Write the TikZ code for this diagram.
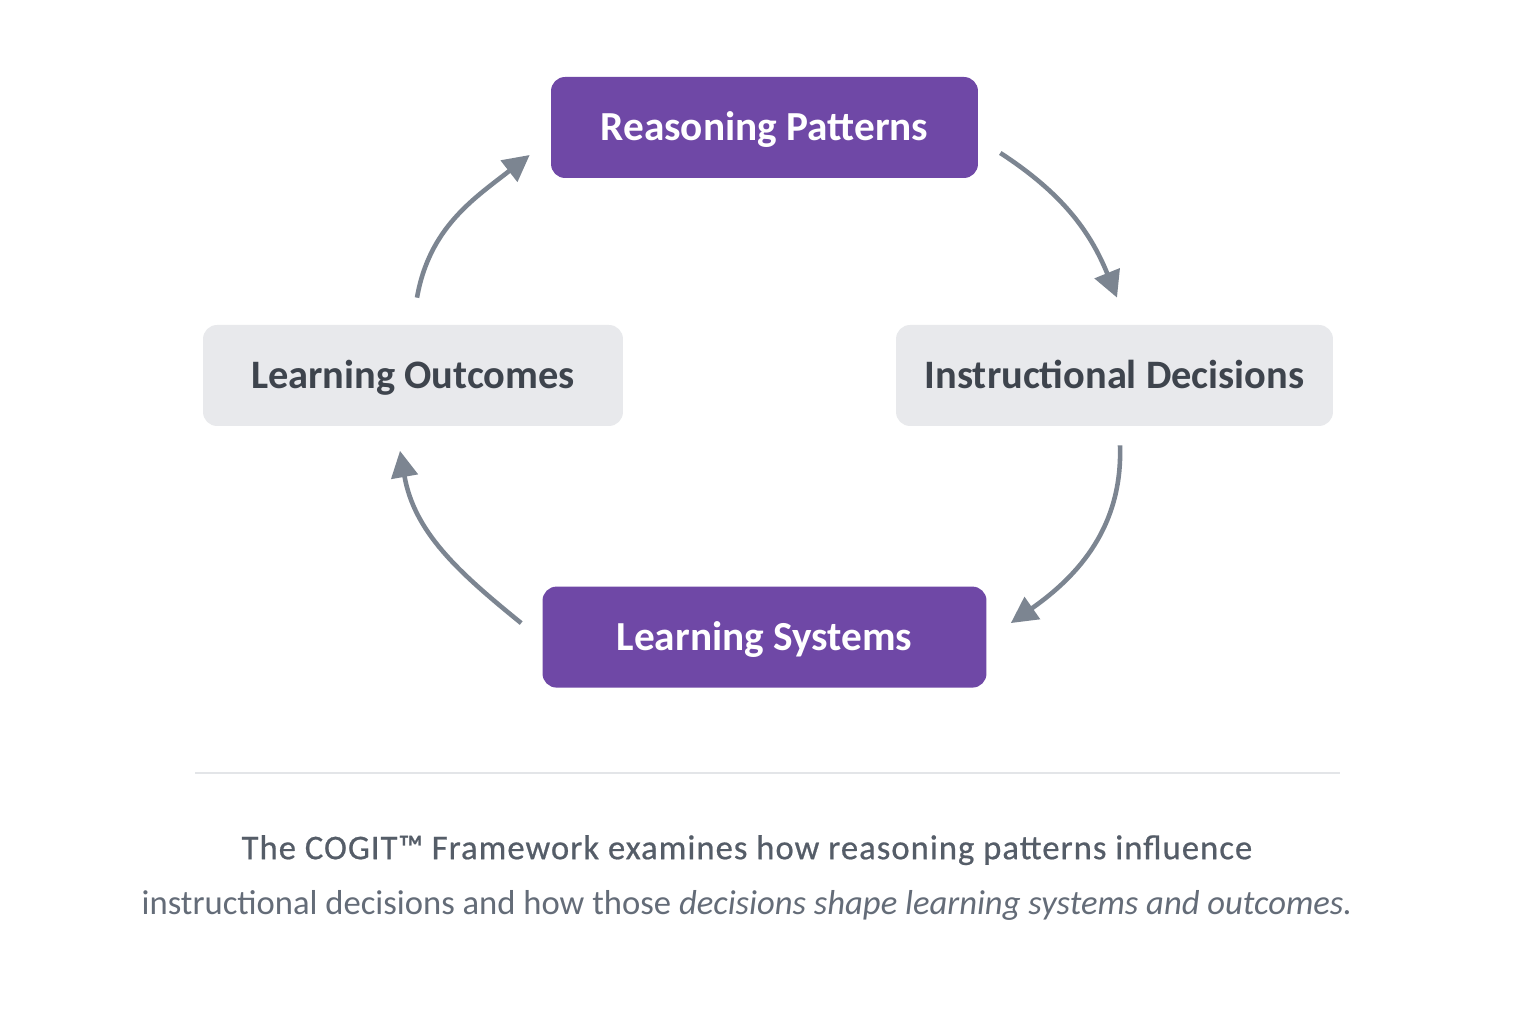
\documentclass[tikz,border=0pt]{standalone}
\usepackage{fontspec}
\setmainfont{Carlito}
\newfontfamily\capmedium[FakeBold=0.6, LetterSpace=3.0]{Carlito}
\usepackage{xcolor}
\usepackage{tikz}
\usetikzlibrary{positioning, arrows.meta}
\definecolor{cogpurple}{HTML}{6F48A6}
\definecolor{coggray}{HTML}{E8E9EC}
\definecolor{cogink}{HTML}{3E444D}
\definecolor{cogarrow}{HTML}{7C8591}
\definecolor{cogrule}{HTML}{E3E5E8}
\definecolor{capdark}{HTML}{555D68}
\definecolor{caplight}{HTML}{646C78}
\tikzstyle{hub} = [rectangle, rounded corners=0.28cm, minimum height=2.02cm, text height=19pt, text depth=4pt, text centered, fill=cogpurple, text=white, font=\fontsize{23.5}{28}\selectfont\bfseries]
\tikzstyle{stage} = [rectangle, rounded corners=0.28cm, minimum height=2.02cm, text height=19pt, text depth=4pt, text centered, fill=coggray, text=cogink, font=\fontsize{23}{28}\selectfont\bfseries]
\tikzstyle{cyc} = [draw=cogarrow, line width=2.6pt, -{Triangle[length=15pt, width=15pt]}]

\begin{document}
\begin{tikzpicture}[x=0.02cm, y=0.02cm]
		\useasboundingbox[fill=white] (0,0) rectangle (1536,1024);
		\node (Reasoning)[hub, minimum width=8.54cm] at (764.5,896.5) {Reasoning Patterns};
		\node (Systems)[hub, minimum width=8.88cm, below = 8.16cm of Reasoning.south, anchor=north] {Learning Systems};
		\node (Instruction)[stage, minimum width=8.74cm] at (1114.5,648.5) {Instructional Decisions};
		\node (Outcomes)[stage, minimum width=8.4cm] at (413,648.5) {Learning Outcomes};
		\draw [cyc] ([shift={(22,-25.5)}]Reasoning.east) to[out=-33, in=112] ([shift={(2.5,27)}]Instruction.north);
		\draw [cyc] ([shift={(5.5,-19)}]Instruction.south) to[out=-88, in=35] ([shift={(24,14)}]Systems.east);
		\draw [cyc] ([shift={(-21,14)}]Systems.west) to[out=141, in=-80] ([shift={(-13,-24.5)}]Outcomes.south);
		\draw [cyc] ([shift={(4,27)}]Outcomes.north) to[out=80, in=-142] ([shift={(-21,-27.5)}]Reasoning.west);
		\coordinate (RuleL) at (195,251);
		\coordinate (RuleR) at (1340,251);
		\draw [cogrule, line width=0.8pt] (RuleL) -- (RuleR);
		\node (Caption)[align=center, font=\fontsize{19.7}{31.7}\selectfont] at (747,146)
			{\textcolor{capdark}{\capmedium The COGIT™ Framework examines how reasoning patterns influence}\\
			\textcolor{caplight}{instructional decisions and how those \textit{decisions shape learning systems and outcomes.}}};
	\end{tikzpicture}
\end{document}
